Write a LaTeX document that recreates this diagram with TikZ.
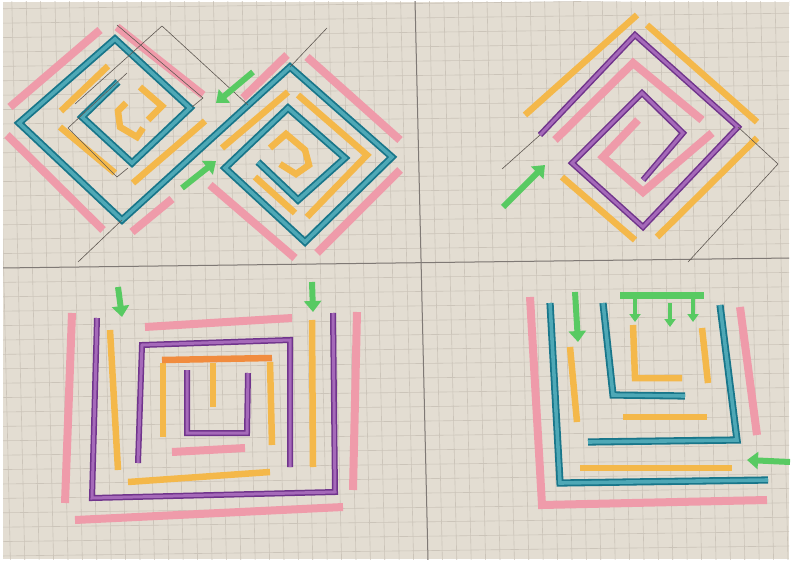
\documentclass[tikz,border=0pt]{standalone}
\usepackage{tikz}
\usetikzlibrary{arrows.meta}
\definecolor{paper}{RGB}{227,221,210}
\definecolor{gridgrey}{RGB}{203,196,185}
\definecolor{pencil}{RGB}{95,88,82}
\definecolor{markpink}{RGB}{239,155,170}
\definecolor{markorange}{RGB}{244,184,74}
\definecolor{darkorange}{RGB}{241,140,62}
\definecolor{tealdark}{RGB}{24,118,138}
\definecolor{teallight}{RGB}{78,168,182}
\definecolor{purpledark}{RGB}{112,52,140}
\definecolor{purplelight}{RGB}{165,105,185}
\definecolor{markgreen}{RGB}{88,202,98}

\begin{document}
\begin{tikzpicture}[x=1pt, y=-1pt,
    gridline/.style={draw=gridgrey, line width=0.6pt},
    divider/.style={draw=pencil!80, line width=1pt},
    guide/.style={draw=pencil, line width=0.6pt},
    pinkmark/.style={draw=markpink, line width=8pt},
    orangemark/.style={draw=markorange, line width=6.5pt},
    tealmark/.style={draw=tealdark, line width=1.8pt, double=teallight, double distance=3.6pt, line join=miter},
    purplemark/.style={draw=purpledark, line width=1.5pt, double=purplelight, double distance=3pt, line join=miter},
    greenarrow/.style={draw=markgreen, line width=6pt, -{Triangle[length=11pt, width=17pt]}}]

    \useasboundingbox (0,0) rectangle (791,561);
    \fill[white] (0,0) rectangle (791,561);
    \fill[paper] (3,2) rectangle (789,559);

    % squared paper
    \begin{scope}
        \clip (3,2) rectangle (789,559);
        \foreach \k in {-29,...,27}
            \draw[gridline] ({415+14.4*\k},0) -- ({428+14.4*\k},561);
        \foreach \k in {-19,...,21}
            \draw[gridline] (0,{268+14.4*\k}) -- (791,{258+14.4*\k});
        \draw[divider] (415,0) -- (428,561);
        \draw[divider] (0,268) -- (791,258);
    \end{scope}

    % top left: double spiral
    \draw[pinkmark] (10,107) -- (100,30);
    \draw[pinkmark] (7,135) -- (103,230);
    \draw[pinkmark] (117,27) -- (203,95);
    \draw[pinkmark] (132,232) -- (172,199);
    \draw[pinkmark] (243,98) -- (287,55);
    \draw[pinkmark] (307,57) -- (400,140);
    \draw[pinkmark] (400,170) -- (317,253);
    \draw[pinkmark] (210,185) -- (295,258);

    \draw[orangemark] (61,111) -- (108,66);
    \draw[orangemark] (60,127) -- (115,173);
    \draw[orangemark] (133,183) -- (205,121);
    \draw[orangemark] (140,87) -- (162,106) -- (148,120);
    \draw[orangemark] (126,103) -- (118,111) -- (120,127) -- (137,137) -- (143,128);
    \draw[orangemark] (222,148) -- (288,92);
    \draw[orangemark] (298,95) -- (367,155) -- (307,217);
    \draw[orangemark] (255,177) -- (295,213);
    \draw[orangemark] (270,148) -- (286,134) -- (305,150) -- (309,165) -- (296,174) -- (280,164);

    \draw[tealmark] (118,82) -- (82,117) -- (132,163) -- (190,108) -- (115,39) -- (19,123) -- (122,220)
        -- (290,67) -- (392,157) -- (305,242) -- (225,168) -- (288,108) -- (345,158) -- (298,200) -- (258,162);

    \draw[guide] (78,262) -- (122,220);
    \draw[guide] (290,67) -- (327,28);
    \draw[guide] (117,25) -- (203,98) -- (192,107);
    \draw[guide] (162,26) -- (248,105);
    \draw[guide] (162,26) -- (75,104);
    \draw[guide] (127,73) -- (68,128) -- (117,177) -- (128,168);

    \draw[greenarrow] (253,72) -- (216,103);
    \draw[greenarrow] (182,188) -- (216,161);

    % top right
    \draw[orangemark] (525,115) -- (637,15);
    \draw[orangemark] (647,25) -- (757,122);
    \draw[orangemark] (757,138) -- (657,237);
    \draw[orangemark] (562,177) -- (635,240);
    \draw[pinkmark] (555,140) -- (633,63) -- (702,120);
    \draw[pinkmark] (638,120) -- (603,157) -- (643,192) -- (712,133);
    \draw[purplemark] (540,135) -- (635,35) -- (738,127) -- (643,227) -- (572,163) -- (642,93) -- (683,133) -- (643,180);
    \draw[guide] (502,169) -- (540,135);
    \draw[guide] (738,127) -- (778,164) -- (688,262);
    \draw[greenarrow] (503,207) -- (545,165);

    % bottom left
    \draw[pinkmark] (72,313) -- (65,503);
    \draw[pinkmark] (357,312) -- (353,490);
    \draw[pinkmark] (145,327) -- (292,318);
    \draw[pinkmark] (172,452) -- (245,448);
    \draw[pinkmark] (75,520) -- (343,507);
    \draw[orangemark] (110,330) -- (118,470);
    \draw[orangemark] (312,320) -- (313,467);
    \draw[orangemark] (163,363) -- (163,437);
    \draw[orangemark] (270,362) -- (272,445);
    \draw[orangemark] (213,363) -- (213,407);
    \draw[orangemark, draw=darkorange] (162,360) -- (272,358);
    \draw[orangemark] (128,482) -- (270,472);
    \draw[purplemark] (97,318) -- (92,498) -- (335,492) -- (333,313);
    \draw[purplemark] (138,463) -- (142,345) -- (290,340) -- (290,467);
    \draw[purplemark] (187,370) -- (187,433) -- (247,433) -- (248,373);
    \draw[greenarrow] (118,287) -- (122,317);
    \draw[greenarrow] (312,282) -- (313,312);

    % bottom right
    \draw[pinkmark] (530,297) -- (542,505) -- (767,500);
    \draw[pinkmark] (740,307) -- (757,435);
    \draw[orangemark] (570,347) -- (577,422);
    \draw[orangemark] (633,325) -- (635,378) -- (682,378);
    \draw[orangemark] (702,328) -- (708,383);
    \draw[orangemark] (623,417) -- (707,417);
    \draw[orangemark] (580,468) -- (732,468);
    \draw[tealmark] (550,303) -- (560,483) -- (768,480);
    \draw[tealmark] (603,303) -- (613,395) -- (685,396);
    \draw[tealmark] (720,305) -- (737,440) -- (588,442);
    \draw[greenarrow] (575,292) -- (578,342);
    \draw[draw=markgreen, line width=7pt] (620,295) -- (704,295);
    \foreach \gx/\gy in {635/298, 670/303, 693/298}
        \draw[greenarrow, line width=4pt, -{Triangle[length=8pt, width=11pt]}] (\gx,\gy) -- (\gx,{\gy+24});
    \draw[greenarrow] (790,462) -- (747,460);
\end{tikzpicture}
\end{document}
